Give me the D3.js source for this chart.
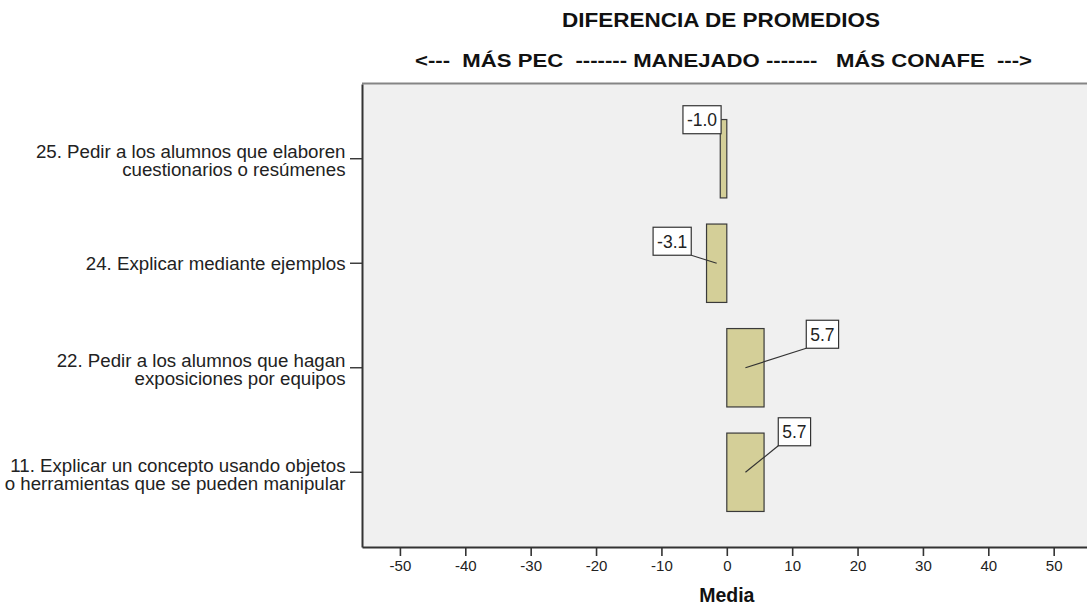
<!DOCTYPE html>
<html>
<head>
<meta charset="utf-8">
<script src="https://cdn.jsdelivr.net/npm/d3@7"></script>
<style>
  html, body { margin: 0; padding: 0; background: #ffffff; }
  svg { display: block; font-family: "Liberation Sans", Arial, sans-serif; }
</style>
</head>
<body>
<svg id="chart" width="1087" height="604"></svg>
<script>
// ---- data ----
const categories = [
  "25. Pedir a los alumnos que elaboren\ncuestionarios o resúmenes",
  "24. Explicar mediante ejemplos",
  "22. Pedir a los alumnos que hagan\nexposiciones por equipos",
  "11. Explicar un concepto usando objetos\no herramientas que se pueden manipular"
];
const values = [-1.0, -3.1, 5.7, 5.7];
const xTickValues = [-50, -40, -30, -20, -10, 0, 10, 20, 30, 40, 50];
const xTickLabels = ["-50", "-40", "-30", "-20", "-10", "0", "10", "20", "30", "40", "50"];
const titleText = "DIFERENCIA DE PROMEDIOS";
const subtitleText = "<---  MÁS PEC  ------- MANEJADO -------   MÁS CONAFE  --->";
const xAxisTitle = "Media";

// ---- layout (styling, not data) ----
const plot = { left: 362, top: 84, right: 1091.6, bottom: 547 };
// label box offsets from bar centre (px) and whether a leader line is drawn
const labelLayout = [
  { dx: -21.5, dy: -39, leader: false },
  { dx: -44.5, dy: -22, leader: true },
  { dx: 77, dy: -33.5, leader: true },
  { dx: 49, dy: -40.5, leader: true }
];

const svg = d3.select("#chart");
const fmt = v => d3.format(".1f")(v).replace("\u2212", "-");

const x = d3.scaleLinear().domain([-55.8, 55.8]).range([plot.left, plot.right]);
const y = d3.scaleBand().domain(categories).range([plot.top, plot.bottom])
  .paddingInner(0.25).paddingOuter(0.34).align(0.5);

// plot background
svg.append("rect")
  .attr("x", plot.left).attr("y", plot.top)
  .attr("width", plot.right - plot.left).attr("height", plot.bottom - plot.top)
  .attr("fill", "#f0f0f0");
svg.append("line")
  .attr("x1", plot.left).attr("x2", plot.right + 10)
  .attr("y1", plot.top - 0.5).attr("y2", plot.top - 0.5)
  .attr("stroke", "#858585").attr("stroke-width", 2);

// bars
const data = categories.map((c, i) => ({ cat: c, v: values[i], lay: labelLayout[i] }));
svg.append("g").selectAll("rect").data(data).join("rect")
  .attr("x", d => x(Math.min(0, d.v)))
  .attr("y", d => y(d.cat))
  .attr("width", d => Math.abs(x(d.v) - x(0)))
  .attr("height", y.bandwidth())
  .attr("fill", "#d4cf98")
  .attr("stroke", "#3a3a3a")
  .attr("stroke-width", 1.2);

// x axis
const xAxis = svg.append("g")
  .attr("transform", `translate(0,${plot.bottom})`)
  .call(d3.axisBottom(x).tickValues(xTickValues)
    .tickFormat((d, i) => xTickLabels[i]).tickSize(9).tickSizeOuter(0));
xAxis.select(".domain").attr("stroke", "#333").attr("stroke-width", 2);
xAxis.selectAll(".tick line").attr("stroke", "#333").attr("stroke-width", 1.6);
xAxis.selectAll(".tick text")
  .attr("y", 13).attr("dy", "0.71em")
  .attr("fill", "#222")
  .style("font-size", "15px")
  .style("font-family", "'Liberation Sans', Arial, sans-serif");

// y axis
const yAxis = svg.append("g")
  .attr("transform", `translate(${plot.left},0)`)
  .call(d3.axisLeft(y).tickSize(12).tickSizeOuter(0).tickFormat(""));
yAxis.select(".domain").attr("stroke", "#333").attr("stroke-width", 2);
yAxis.selectAll(".tick line").attr("stroke", "#333").attr("stroke-width", 1.4);
yAxis.selectAll(".tick").each(function(d) {
  const lines = d.split("\n");
  const t = d3.select(this).append("text")
    .attr("text-anchor", "end")
    .attr("fill", "#222")
    .style("font-size", "18.7px")
    .style("font-family", "'Liberation Sans', Arial, sans-serif");
  if (lines.length === 1) {
    t.append("tspan").attr("x", -16.5).attr("y", 6.5).text(lines[0]);
  } else {
    lines.forEach((ln, i) => {
      t.append("tspan").attr("x", -16.5).attr("y", -0.7 + i * 18.4).text(ln);
    });
  }
});

// value labels with leader lines
const lab = svg.append("g");
data.forEach(d => {
  const cx = (x(d.v) + x(0)) / 2;
  const cy = y(d.cat) + y.bandwidth() / 2;
  const txt = fmt(d.v);
  const bx = cx + d.lay.dx, by = cy + d.lay.dy;
  const g = lab.append("g");
  const line = g.append("line").attr("stroke", "#333").attr("stroke-width", 1.2);
  const rect = g.append("rect").attr("fill", "#fff").attr("stroke", "#333").attr("stroke-width", 1.2);
  const t = g.append("text")
    .attr("x", bx).attr("y", by).attr("dy", "0.36em")
    .attr("text-anchor", "middle")
    .attr("fill", "#222")
    .style("font-size", "17.5px")
    .text(txt);
  const w = t.node().getComputedTextLength() + 8;
  const h = 28;
  rect.attr("x", bx - w / 2).attr("y", by - h / 2).attr("width", w).attr("height", h);
  if (d.lay.leader) {
    const ex = d.lay.dx < 0 ? bx + w / 2 : bx - w / 2;
    const ey = by + h / 2;
    line.attr("x1", cx).attr("y1", cy).attr("x2", ex).attr("y2", ey);
  } else {
    line.remove();
  }
});

// titles
svg.append("text")
  .attr("x", 721).attr("y", 26.5)
  .attr("text-anchor", "middle")
  .attr("fill", "#111")
  .style("font-size", "20px").style("font-weight", "bold")
  .attr("textLength", 318).attr("lengthAdjust", "spacingAndGlyphs")
  .text(titleText);
svg.append("text")
  .attr("x", 723.5).attr("y", 67)
  .attr("text-anchor", "middle")
  .attr("fill", "#111")
  .attr("xml:space", "preserve")
  .style("white-space", "pre")
  .style("font-size", "19px").style("font-weight", "bold")
  .attr("textLength", 617).attr("lengthAdjust", "spacingAndGlyphs")
  .text(subtitleText);
svg.append("text")
  .attr("x", x(0)).attr("y", 601.5)
  .attr("text-anchor", "middle")
  .attr("fill", "#111")
  .style("font-size", "19.5px").style("font-weight", "bold")
  .text(xAxisTitle);
</script>
</body>
</html>
